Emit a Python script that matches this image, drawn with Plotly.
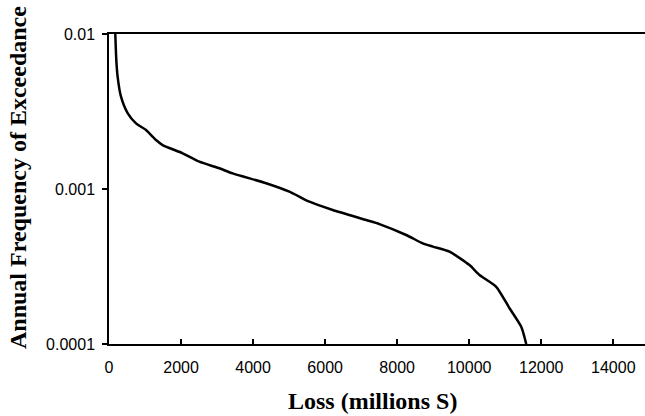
import plotly.graph_objects as go

loss = [175, 203, 239, 333, 517, 750, 1028, 1306, 1489, 2044, 2508, 3064, 3433, 4361,
        5008, 5564, 6211, 7139, 7508, 8250, 8711, 8989, 9453, 10008, 10286, 10750,
        11119, 11444, 11583]
freq = [0.0100, 0.00679, 0.00531, 0.00394, 0.00309, 0.00265, 0.00240, 0.00207, 0.00192,
        0.00170, 0.00150, 0.00136, 0.00126, 0.00109, 0.000962, 0.000828, 0.000732,
        0.000631, 0.000594, 0.000505, 0.000446, 0.000425, 0.000394, 0.000323, 0.000279,
        0.000234, 0.000170, 0.000129, 0.000100]

x_ticks = [0, 2000, 4000, 6000, 8000, 10000, 12000, 14000]
x_tick_labels = ["0", "2000", "4000", "6000", "8000", "10000", "12000", "14000"]
y_ticks = [0.0001, 0.001, 0.01]
y_tick_labels = ["0.0001", "0.001", "0.01"]

fig = go.Figure()
fig.add_trace(go.Scatter(x=loss, y=freq, mode="lines",
                         line=dict(color="black", width=2.5, shape="spline", smoothing=0.6),
                         showlegend=False, hoverinfo="skip"))

tick_font = dict(family="Liberation Sans, Arial, sans-serif", size=16, color="black")
title_font = dict(family="Liberation Serif, Times New Roman, serif", size=24, color="black")

fig.update_layout(
    width=645, height=416,
    margin=dict(l=109, r=0, t=34, b=72),
    paper_bgcolor="white", plot_bgcolor="white",
    xaxis=dict(range=[0, 14880], tickvals=x_ticks, ticktext=x_tick_labels,
               ticks="inside", ticklen=5,
               tickwidth=1.5, tickcolor="black", showline=True, linecolor="black",
               linewidth=1.5, mirror=True, showgrid=False, zeroline=False,
               tickfont=tick_font, ticklabelstandoff=8),
    yaxis=dict(type="log", range=[-4, -2], tickvals=y_ticks, ticktext=y_tick_labels,
               ticks="outside", ticklen=5, tickwidth=1.5, tickcolor="black",
               showline=True, linecolor="black", linewidth=1.5, showgrid=False,
               zeroline=False, tickfont=tick_font, ticklabelstandoff=4),
    annotations=[
        dict(text="<b>Loss (millions S)</b>", x=372, y=401, xref="paper", yref="paper",
             showarrow=False, font=title_font),
        dict(text="<b>Annual Frequency of Exceedance</b>", x=18, y=178, xref="paper",
             yref="paper", showarrow=False, font=title_font, textangle=-90),
    ],
)

pw = 645 - 109 - 0
ph = 416 - 34 - 72
for a in fig.layout.annotations:
    px, py = a.x, a.y
    a.x = (px - 109) / pw
    a.y = 1 - (py - 34) / ph
    a.xanchor = "center"
    a.yanchor = "middle"

fig.write_html("out.html")
